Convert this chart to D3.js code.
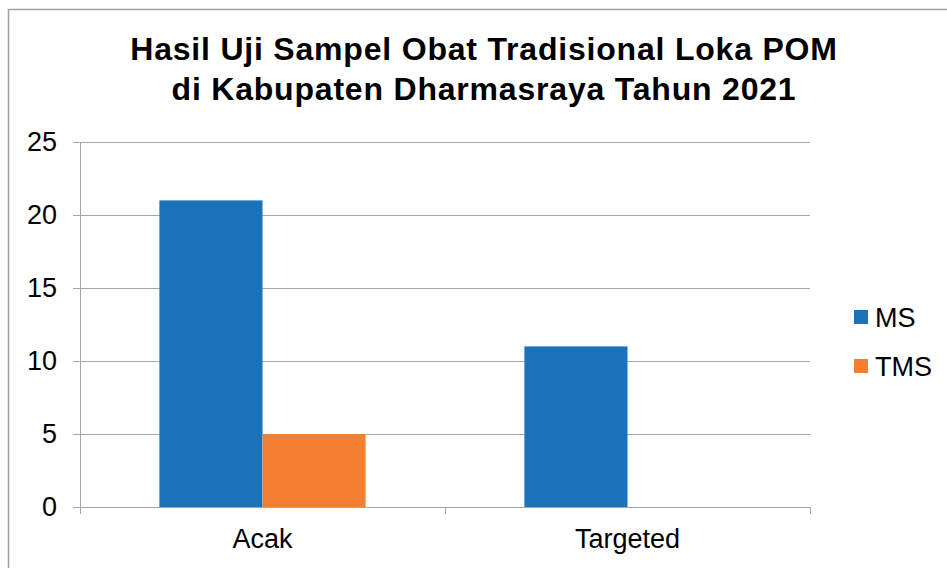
<!DOCTYPE html>
<html>
<head>
<meta charset="UTF-8">
<title>Hasil Uji Sampel</title>
<script src="https://cdn.jsdelivr.net/npm/d3@7"></script>
<style>
  body { margin: 0; background: #fff; }
  text { font-family: "Liberation Sans", Arial, sans-serif; }
</style>
</head>
<body>
<script>
// data
var categories = ['Acak', 'Targeted'];
var seriesNames = ['MS', 'TMS'];
var msValues = [21, 11];
var tmsValues = [5, 0];
var yTicks = [0, 5, 10, 15, 20, 25];
var colors = ['#1a72bb', '#f38031'];

var W = 947, H = 568;
var margin = {top: 142, left: 80, right: 137, bottom: 61};
var width = W - margin.left - margin.right,
    height = H - margin.top - margin.bottom;
var axisColor = '#a6a6a6';
var labelSize = 27;

var svg = d3.select('body').append('svg')
  .attr('width', W).attr('height', H);

// outer border (left and top only visible)
svg.append('path')
  .attr('d', 'M8.5,' + H + 'V9.5H' + W)
  .attr('fill', 'none').attr('stroke', '#a0a0a0').attr('stroke-width', 1.5);

// title
var title = svg.append('text')
  .attr('text-anchor', 'middle')
  .attr('font-size', 32).attr('font-weight', 'bold').attr('fill', '#000')
  .attr('letter-spacing', 0.8);
title.append('tspan').attr('x', 484).attr('y', 60).text('Hasil Uji Sampel Obat Tradisional Loka POM');
title.append('tspan').attr('x', 484).attr('y', 100).text('di Kabupaten Dharmasraya Tahun 2021');

var g = svg.append('g').attr('transform', 'translate(' + margin.left + ',' + margin.top + ')');

var x0 = d3.scaleBand().domain(categories).range([0, width]).paddingInner(0).paddingOuter(0);
var x1 = d3.scaleBand().domain(seriesNames).range([0, x0.bandwidth()]).paddingInner(0).paddingOuter(0.77);
var y = d3.scaleLinear().domain([0, 25]).range([height, 0]);

// gridlines
g.selectAll('.grid').data(yTicks).enter().append('line')
  .attr('x1', 0).attr('x2', width)
  .attr('y1', function(d) { return Math.round(y(d)) + 0.5; })
  .attr('y2', function(d) { return Math.round(y(d)) + 0.5; })
  .attr('stroke', axisColor).attr('stroke-width', 1);

// bars
var rows = categories.map(function(c, i) { return {cat: c, vals: [msValues[i], tmsValues[i]]}; });
var groups = g.selectAll('.grp').data(rows).enter().append('g')
  .attr('transform', function(d) { return 'translate(' + x0(d.cat) + ',0)'; });
groups.selectAll('rect').data(function(d) {
    return d.vals.map(function(v, j) { return {name: seriesNames[j], v: v}; });
  }).enter().append('rect')
  .attr('x', function(d) { return x1(d.name); })
  .attr('width', x1.bandwidth())
  .attr('y', function(d) { return y(d.v); })
  .attr('height', function(d) { return height - y(d.v); })
  .attr('fill', function(d, j) { return colors[j]; });

// y axis
var yAxis = g.append('g')
  .call(d3.axisLeft(y).tickValues(yTicks).tickSize(7).tickPadding(16));
yAxis.attr('font-size', labelSize).attr('font-family', '"Liberation Sans", Arial, sans-serif');
yAxis.select('.domain').attr('stroke', axisColor);
yAxis.selectAll('line').attr('stroke', axisColor);
yAxis.selectAll('text').attr('fill', '#000');

// x axis
var xAxis = g.append('g').attr('transform', 'translate(0,' + height + ')')
  .call(d3.axisBottom(x0).tickSize(0).tickPadding(22));
xAxis.attr('font-size', labelSize).attr('font-family', '"Liberation Sans", Arial, sans-serif');
xAxis.select('.domain').attr('stroke', axisColor);
xAxis.selectAll('text').attr('fill', '#000');
// category separators
var seps = [0].concat(categories.map(function(c) { return x0(c) + x0.bandwidth(); }));
xAxis.selectAll('.sep').data(seps).enter().append('line')
  .attr('x1', function(d) { return Math.round(d) + 0.5; })
  .attr('x2', function(d) { return Math.round(d) + 0.5; })
  .attr('y1', 0).attr('y2', 7).attr('stroke', axisColor);

// legend
var legend = svg.append('g').attr('transform', 'translate(854,310)');
var li = legend.selectAll('g').data(seriesNames).enter().append('g')
  .attr('transform', function(d, i) { return 'translate(0,' + (i * 49) + ')'; });
li.append('rect').attr('width', 14).attr('height', 14)
  .attr('fill', function(d, i) { return colors[i]; });
li.append('text').attr('x', 21).attr('y', 17).attr('font-size', labelSize).attr('fill', '#000')
  .text(function(d) { return d; });
</script>
</body>
</html>
